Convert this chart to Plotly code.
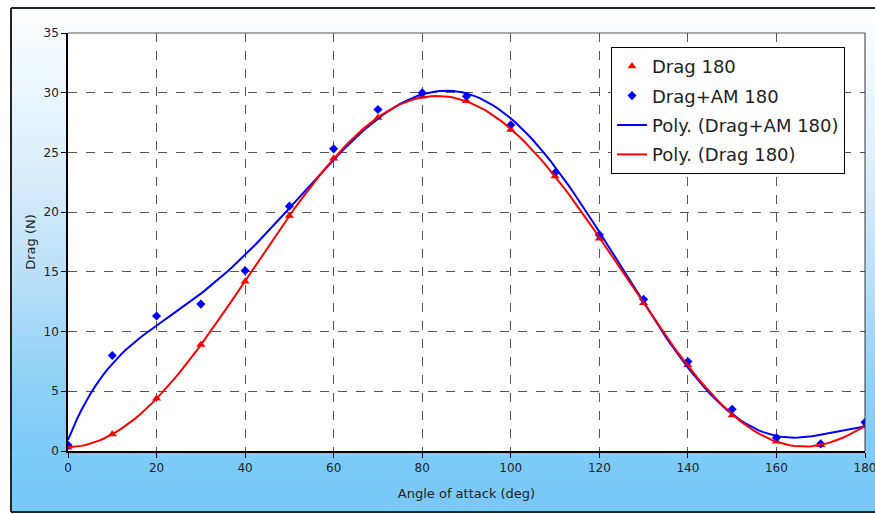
import numpy as np
import plotly.graph_objects as go

angle = [0, 10, 20, 30, 40, 50, 60, 70, 80, 90, 100, 110, 120, 130, 140, 150, 160, 170, 180]
drag_180 = [0.3, 1.4, 4.4, 8.9, 14.2, 19.7, 24.5, 27.9, 29.7, 29.3, 26.9, 23.0, 17.8, 12.4, 7.2, 3.0, 0.8, 0.5, 2.1]
drag_am_180 = [0.5, 8.0, 11.3, 12.3, 15.1, 20.5, 25.3, 28.6, 30.0, 29.7, 27.3, 23.3, 18.1, 12.7, 7.5, 3.5, 1.1, 0.6, 2.4]
x_ticks = [0, 20, 40, 60, 80, 100, 120, 140, 160, 180]
y_ticks = [0, 5, 10, 15, 20, 25, 30, 35]

# Polynomial (order 6) trendlines, like Excel's "Poly." trendlines
xs = np.linspace(0, 180, 181)
fit_am = np.polynomial.Polynomial.fit(angle, drag_am_180, 6)(xs)
fit_d = np.polynomial.Polynomial.fit(angle, drag_180, 6)(xs)

W, H = 875, 514
ML, MR, MT, MB = 68, 10, 33, 63
pw, ph = W - ML - MR, H - MT - MB


def px2x(px):
    return (px - ML) / pw


def py2y(py):
    return (H - MB - py) / ph


fig = go.Figure()
fig.add_trace(go.Scatter(x=angle, y=drag_180, mode="markers", name="Drag 180",
                         legendgroup="a",
                         marker=dict(symbol="triangle-up", color="#ff0000", size=8)))
fig.add_trace(go.Scatter(x=angle, y=drag_am_180, mode="markers", name="Drag+AM 180",
                         legendgroup="b",
                         marker=dict(symbol="diamond", color="#0000ff", size=7)))
fig.add_trace(go.Scatter(x=xs, y=fit_am, mode="lines", name="Poly. (Drag+AM 180)",
                         legendgroup="c",
                         line=dict(color="#0000ff", width=2)))
fig.add_trace(go.Scatter(x=xs, y=fit_d, mode="lines", name="Poly. (Drag 180)",
                         legendgroup="d",
                         line=dict(color="#ff0000", width=2)))

# gradient background of the chart frame
stops = [(8, (255, 255, 255)), (60, (242, 249, 255)), (180, (216, 237, 252)),
         (300, (177, 220, 248)), (380, (142, 209, 247)), (450, (125, 203, 248)),
         (512, (120, 200, 248))]
shapes = []
n = 80
top, bot = 8, 512
for i in range(n):
    y0p = top + (bot - top) * i / n
    y1p = top + (bot - top) * (i + 1) / n
    ym = (y0p + y1p) / 2
    for j in range(len(stops) - 1):
        if stops[j][0] <= ym <= stops[j + 1][0]:
            t = (ym - stops[j][0]) / (stops[j + 1][0] - stops[j][0])
            c = [round(stops[j][1][k] + t * (stops[j + 1][1][k] - stops[j][1][k])) for k in range(3)]
            break
    shapes.append(dict(type="rect", xref="paper", yref="paper", layer="below",
                       x0=px2x(11), x1=px2x(900), y0=py2y(y1p + 0.5), y1=py2y(y0p),
                       line=dict(width=0), fillcolor="rgb(%d,%d,%d)" % tuple(c)))
# white plot area
shapes.append(dict(type="rect", xref="paper", yref="paper", layer="below",
                   x0=0, x1=1, y0=0, y1=1, line=dict(width=0), fillcolor="white"))
# frame border (top, left, bottom; right edge is beyond the picture)
for (xa, ya, xb, yb) in [(11, 8, 900, 8), (11, 8, 11, 512), (11, 512, 900, 512)]:
    shapes.append(dict(type="line", xref="paper", yref="paper", layer="above",
                       x0=px2x(xa), x1=px2x(xb), y0=py2y(ya), y1=py2y(yb),
                       line=dict(width=2, color="#222222")))
# top/right plot border
shapes.append(dict(type="line", xref="paper", yref="paper", layer="above",
                   x0=0, x1=1, y0=1, y1=1, line=dict(width=1, color="#555555")))
shapes.append(dict(type="line", xref="paper", yref="paper", layer="above",
                   x0=1, x1=1, y0=0, y1=1, line=dict(width=1, color="#333333")))

font = "DejaVu Sans, Verdana, sans-serif"
fig.update_layout(
    width=W, height=H,
    margin=dict(l=ML, r=MR, t=MT, b=MB, autoexpand=False),
    paper_bgcolor="white", plot_bgcolor="rgba(0,0,0,0)",
    font=dict(family=font, size=12, color="#222222"),
    shapes=shapes,
    showlegend=True,
    legend=dict(x=px2x(611), y=py2y(47), xanchor="left", yanchor="top",
                bgcolor="white", bordercolor="black", borderwidth=1,
                font=dict(family=font, size=18, color="#222222"),
                traceorder="grouped", tracegroupgap=3, itemwidth=30),
    xaxis=dict(range=[0, 180], tickmode="array", tickvals=x_ticks,
               showgrid=True, gridcolor="#555555", griddash="dash", gridwidth=1,
               showline=True, linecolor="black", linewidth=1.5,
               ticks="outside", ticklen=5, tickcolor="black",
               ticklabeloverflow="allow", automargin=False, zeroline=False,
               title=dict(text="Angle of attack (deg)", font=dict(size=13), standoff=15)),
    yaxis=dict(range=[0, 35], tickmode="array", tickvals=y_ticks,
               showgrid=True, gridcolor="#555555", griddash="dash", gridwidth=1,
               showline=True, linecolor="black", linewidth=1.5,
               ticks="outside", ticklen=5, tickcolor="black",
               automargin=False, zeroline=False,
               title=dict(text="Drag (N)", font=dict(size=13), standoff=5)),
)

fig.write_html("out.html")
